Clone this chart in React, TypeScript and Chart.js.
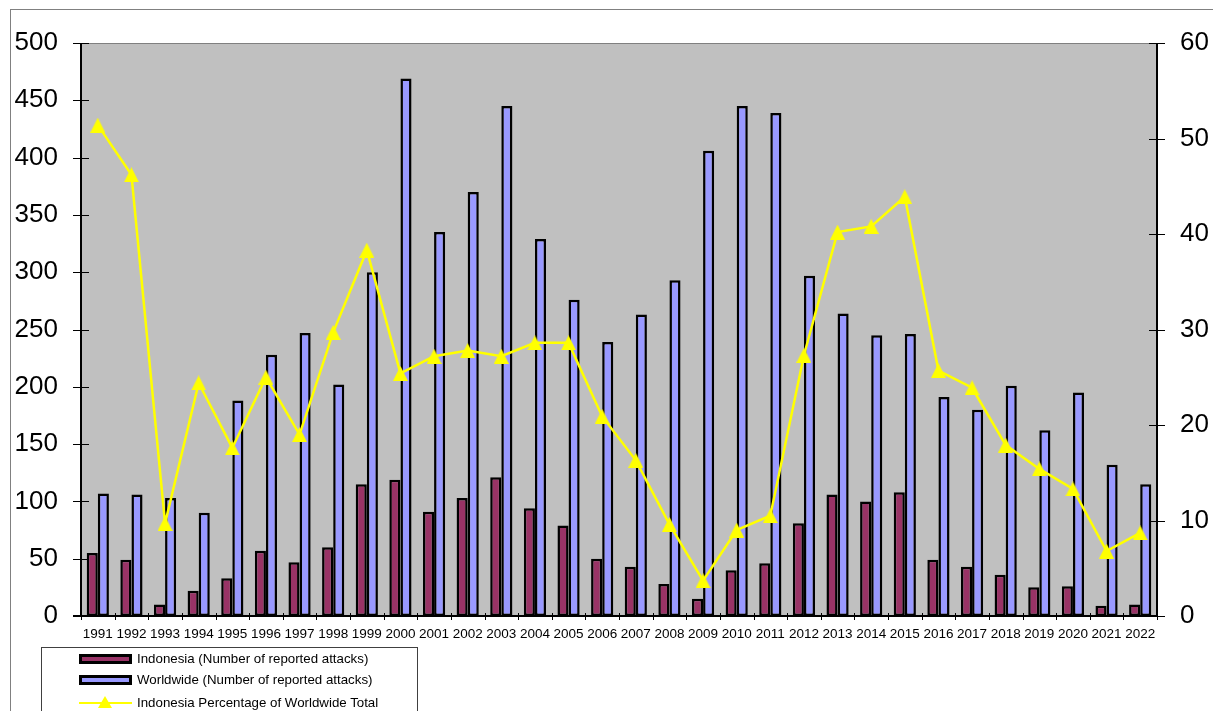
import React, { useEffect, useRef } from "react";
import { Chart, registerables } from "chart.js";

Chart.register(...registerables);

// Reported piracy attacks, Indonesia vs. worldwide, 1991–2022
const years = [
  "1991", "1992", "1993", "1994", "1995", "1996", "1997", "1998",
  "1999", "2000", "2001", "2002", "2003", "2004", "2005", "2006",
  "2007", "2008", "2009", "2010", "2011", "2012", "2013", "2014",
  "2015", "2016", "2017", "2018", "2019", "2020", "2021", "2022",
];

const indonesiaAttacks = [
  55, 49, 10, 22, 33, 57, 47, 60, 115, 119, 91, 103, 121, 94, 79, 50,
  43, 28, 15, 40, 46, 81, 106, 100, 108, 49, 43, 36, 25, 26, 9, 10,
];

const worldwideAttacks = [
  107, 106, 103, 90, 188, 228, 247, 202, 300, 469, 335, 370, 445, 329, 276, 239,
  263, 293, 406, 445, 439, 297, 264, 245, 246, 191, 180, 201, 162, 195, 132, 115,
];

// Indonesia's share of the worldwide total, in percent
const indonesiaShare = [
  51.4, 46.2, 9.7, 24.4, 17.6, 25.0, 19.0, 29.7, 38.3, 25.4, 27.2, 27.8, 27.2, 28.6, 28.6, 20.9,
  16.3, 9.6, 3.7, 9.0, 10.5, 27.3, 40.2, 40.8, 43.9, 25.7, 23.9, 17.9, 15.4, 13.3, 6.8, 8.7,
];

const leftAxisMax = 500;
const leftAxisStep = 50;
const rightAxisMax = 60;
const rightAxisStep = 10;

const legendLabels = [
  "Indonesia (Number of reported attacks)",
  "Worldwide (Number of reported attacks)",
  "Indonesia Percentage of Worldwide Total",
];

const FONT = "'Liberation Sans', Arial, Helvetica, sans-serif";
const INDONESIA_COLOR = "#993366";
const WORLDWIDE_COLOR = "#9999FF";
const LINE_COLOR = "#FFFF00";
const PLOT_BG = "#C0C0C0";

function makeTriangle(size: number, color: string): HTMLCanvasElement {
  const c = document.createElement("canvas");
  c.width = size;
  c.height = size;
  const ctx = c.getContext("2d")!;
  ctx.fillStyle = color;
  ctx.beginPath();
  ctx.moveTo(size / 2, 0);
  ctx.lineTo(size, size);
  ctx.lineTo(0, size);
  ctx.closePath();
  ctx.fill();
  return c;
}

// Plot background, axis lines and crossing tick marks in the spreadsheet style
const frameworkPlugin = {
  id: "framework",
  beforeDatasetsDraw(chart: any) {
    const { ctx, chartArea } = chart;
    ctx.save();
    ctx.fillStyle = PLOT_BG;
    ctx.fillRect(chartArea.left, chartArea.top, chartArea.right - chartArea.left, chartArea.bottom - chartArea.top);
    ctx.restore();
  },
  afterDatasetsDraw(chart: any) {
    const { ctx, chartArea, scales } = chart;
    const { left, right, top, bottom } = chartArea;
    ctx.save();

    // top border of plot area
    ctx.strokeStyle = "#808080";
    ctx.lineWidth = 1;
    ctx.beginPath();
    ctx.moveTo(left, top + 0.5);
    ctx.lineTo(right, top + 0.5);
    ctx.stroke();

    ctx.strokeStyle = "#000";
    ctx.lineWidth = 2;
    ctx.beginPath();
    ctx.moveTo(left, top);
    ctx.lineTo(left, bottom);
    ctx.moveTo(right, top);
    ctx.lineTo(right, bottom);
    ctx.moveTo(left - 8, bottom);
    ctx.lineTo(right, bottom);
    ctx.stroke();

    ctx.lineWidth = 1;
    ctx.beginPath();
    const yl = scales.y;
    for (let v = 0; v <= leftAxisMax; v += leftAxisStep) {
      const py = Math.round(yl.getPixelForValue(v)) + 0.5;
      ctx.moveTo(left - 8, py);
      ctx.lineTo(left + 8, py);
    }
    const yr = scales.y1;
    for (let v = 0; v <= rightAxisMax; v += rightAxisStep) {
      const py = Math.round(yr.getPixelForValue(v)) + 0.5;
      ctx.moveTo(right - 8, py);
      ctx.lineTo(right + 8, py);
    }
    const n = years.length;
    const w = (right - left) / n;
    for (let i = 0; i <= n; i++) {
      const px = Math.round(left + i * w) + 0.5;
      ctx.moveTo(px, bottom - 3);
      ctx.lineTo(px, bottom + 4);
    }
    ctx.stroke();
    ctx.restore();
  },
};

export default function App() {
  const canvasRef = useRef<HTMLCanvasElement | null>(null);

  useEffect(() => {
    if (!canvasRef.current) return;
    const triangle = makeTriangle(15, LINE_COLOR);

    const chart = new Chart(canvasRef.current, {
      type: "bar",
      data: {
        labels: years,
        datasets: [
          {
            type: "line",
            label: legendLabels[2],
            data: indonesiaShare,
            yAxisID: "y1",
            borderColor: LINE_COLOR,
            borderWidth: 2.5,
            pointStyle: triangle as any,
            pointRadius: 7,
            tension: 0,
            order: 0,
          } as any,
          {
            label: legendLabels[0],
            data: indonesiaAttacks,
            yAxisID: "y",
            backgroundColor: INDONESIA_COLOR,
            borderColor: "#000",
            borderWidth: 2.5,
            borderSkipped: false,
            categoryPercentage: 0.66,
            barPercentage: 1,
            order: 1,
          },
          {
            label: legendLabels[1],
            data: worldwideAttacks,
            yAxisID: "y",
            backgroundColor: WORLDWIDE_COLOR,
            borderColor: "#000",
            borderWidth: 2.5,
            borderSkipped: false,
            categoryPercentage: 0.66,
            barPercentage: 1,
            order: 2,
          },
        ],
      },
      options: {
        animation: false,
        responsive: false,
        maintainAspectRatio: false,
        layout: { padding: { top: 43, left: 0, right: 0, bottom: 0 } },
        plugins: {
          legend: { display: false },
          tooltip: { enabled: false },
        },
        scales: {
          x: {
            offset: true,
            grid: { display: false, drawTicks: false },
            border: { display: false },
            ticks: {
              autoSkip: false,
              maxRotation: 0,
              minRotation: 0,
              padding: 10,
              color: "#000",
              font: { family: FONT, size: 13.5 },
            },
            afterFit: (s: any) => {
              s.height = 95;
            },
          },
          y: {
            position: "left",
            min: 0,
            max: leftAxisMax,
            grid: { display: false, drawTicks: false },
            border: { display: false },
            ticks: {
              stepSize: leftAxisStep,
              padding: 23,
              color: "#000",
              font: { family: FONT, size: 26 },
            },
            afterFit: (s: any) => {
              s.width = 81;
            },
          },
          y1: {
            position: "right",
            min: 0,
            max: rightAxisMax,
            grid: { display: false, drawTicks: false },
            border: { display: false },
            ticks: {
              stepSize: rightAxisStep,
              padding: 23,
              color: "#000",
              font: { family: FONT, size: 26 },
            },
            afterFit: (s: any) => {
              s.width = 56;
            },
          },
        },
      },
      plugins: [frameworkPlugin],
    });

    return () => chart.destroy();
  }, []);

  const legendText: React.CSSProperties = {
    position: "absolute",
    left: 137,
    fontFamily: FONT,
    fontSize: 13.3,
    lineHeight: "15px",
    color: "#000",
    whiteSpace: "nowrap",
  };
  const swatch = (top: number, color: string): React.CSSProperties => ({
    position: "absolute",
    left: 79,
    top,
    width: 47,
    height: 4,
    background: color,
    border: "3px solid #000",
  });

  return (
    <div style={{ position: "fixed", left: 0, top: 0, width: 1213, height: 711, overflow: "hidden", background: "#fff" }}>
      <div style={{ position: "absolute", left: 10, top: 9, width: 1220, height: 720, borderTop: "1px solid #808080", borderLeft: "1px solid #808080" }} />
      <canvas ref={canvasRef} width={1213} height={711} style={{ position: "absolute", left: 0, top: 0, width: 1213, height: 711 }} />
      <div style={{ position: "absolute", left: 41, top: 647, width: 377, height: 80, border: "1px solid #404040", boxSizing: "border-box" }} />
      <div style={swatch(654, INDONESIA_COLOR)} />
      <div style={{ ...legendText, top: 651 }}>{legendLabels[0]}</div>
      <div style={swatch(675, WORLDWIDE_COLOR)} />
      <div style={{ ...legendText, top: 672 }}>{legendLabels[1]}</div>
      <div style={{ position: "absolute", left: 79, top: 702, width: 53, height: 2, background: LINE_COLOR }} />
      <div
        style={{
          position: "absolute",
          left: 98,
          top: 696,
          width: 0,
          height: 0,
          borderLeft: "7px solid transparent",
          borderRight: "7px solid transparent",
          borderBottom: "12px solid " + LINE_COLOR,
        }}
      />
      <div style={{ ...legendText, top: 695 }}>{legendLabels[2]}</div>
    </div>
  );
}
